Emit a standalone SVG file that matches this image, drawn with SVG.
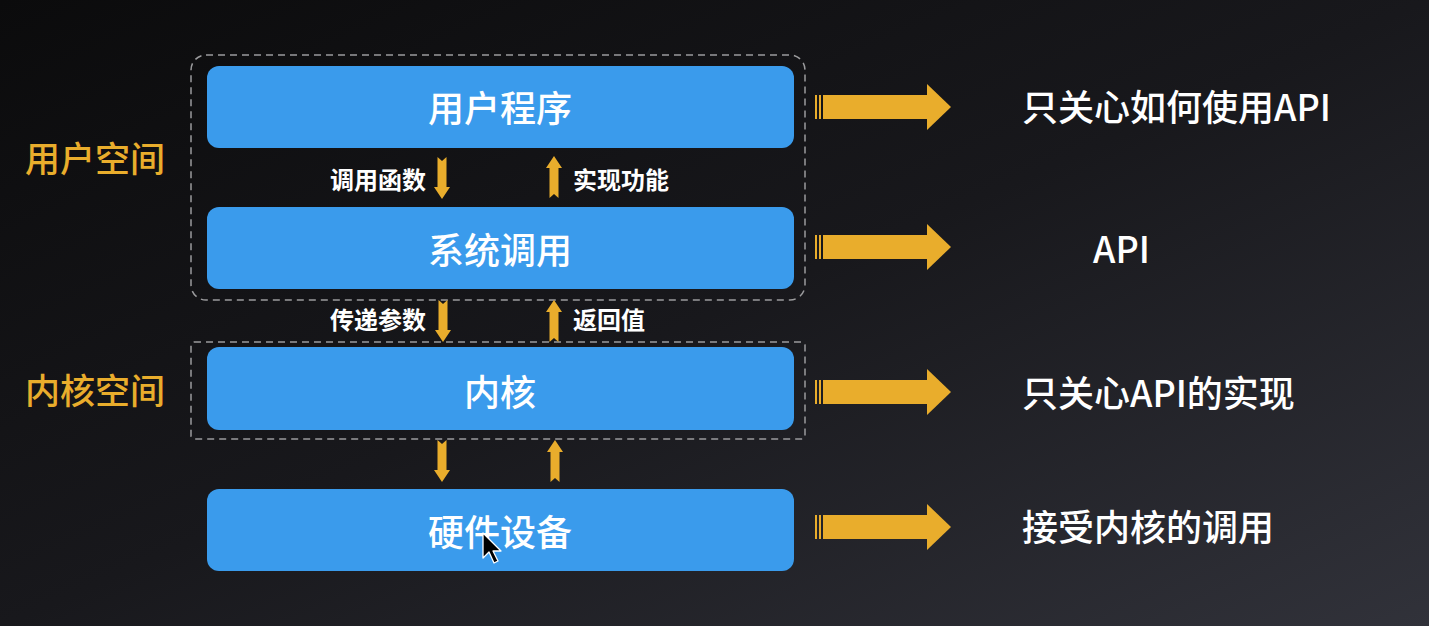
<svg xmlns="http://www.w3.org/2000/svg" width="1429" height="626" viewBox="0 0 1429 626">
  <defs>
    <linearGradient id="bg" x1="0" y1="0" x2="1" y2="1">
      <stop offset="0" stop-color="#0b0b0c"/>
      <stop offset="0.5" stop-color="#18181c"/>
      <stop offset="1" stop-color="#31323a"/>
    </linearGradient>
    <g id="bigArrow">
      <rect x="0" y="-12" width="2" height="24"/>
      <rect x="4" y="-12" width="2" height="24"/>
      <rect x="8" y="-12" width="105" height="24"/>
      <polygon points="112,-23 136,0 112,23"/>
    </g>
    <path id="downArrow" d="M-4.5,0 L0,4 L4.5,0 L4.5,30 L8,30 L0,42 L-8,30 L-4.5,30 Z"/>
    <style>
      .box { fill: #3a9bec; }
      .dash { fill: none; stroke: #9b9b9d; stroke-width: 1.5; stroke-dasharray: 7 5; }
      .ya { fill: #e9ad2c; }
      .t { font-family: "Noto Sans CJK SC", "Noto Sans", sans-serif; dominant-baseline: central; font-weight: 500; }
      .boxt { fill: #ffffff; font-size: 36px; text-anchor: middle; }
      .side { fill: #e9ad2c; font-size: 35px; }
      .small { fill: #ffffff; font-size: 24px; font-weight: bold; }
      .right { fill: #ffffff; font-size: 36px; }
    </style>
  </defs>
  <rect x="0" y="0" width="1429" height="626" fill="url(#bg)"/>

  <g id="user-space-frame">
    <rect class="dash" x="191" y="55" width="614" height="245" rx="15"/>
    <text class="t side" x="25" y="156">用户空间</text>
  </g>
  <g id="kernel-space-frame">
    <rect class="dash" x="191" y="342" width="614" height="97" rx="3"/>
    <text class="t side" x="25" y="388">内核空间</text>
  </g>

  <g id="user-program">
    <rect class="box" x="207" y="66" width="587" height="82" rx="12"/>
    <text class="t boxt" x="500" y="106">用户程序</text>
  </g>
  <g id="syscall">
    <rect class="box" x="207" y="207" width="587" height="82" rx="12"/>
    <text class="t boxt" x="500" y="248">系统调用</text>
  </g>
  <g id="kernel">
    <rect class="box" x="207" y="347" width="587" height="83" rx="12"/>
    <text class="t boxt" x="500" y="390">内核</text>
  </g>
  <g id="hardware">
    <rect class="box" x="207" y="489" width="587" height="82" rx="12"/>
    <text class="t boxt" x="500" y="530">硬件设备</text>
  </g>

  <g id="connectors" class="ya">
    <use href="#downArrow" x="442" y="157"/>
    <use href="#downArrow" transform="translate(554,198) rotate(180)"/>
    <use href="#downArrow" x="443" y="300"/>
    <use href="#downArrow" transform="translate(554,342) rotate(180)"/>
    <use href="#downArrow" x="442" y="440"/>
    <use href="#downArrow" transform="translate(555,482) rotate(180)"/>
    <use href="#bigArrow" x="815" y="107"/>
    <use href="#bigArrow" x="815" y="247"/>
    <use href="#bigArrow" x="815" y="392"/>
    <use href="#bigArrow" x="815" y="527"/>
  </g>

  <g id="connector-labels">
    <text class="t small" x="330" y="178">调用函数</text>
    <text class="t small" x="573" y="178">实现功能</text>
    <text class="t small" x="330" y="318">传递参数</text>
    <text class="t small" x="573" y="318">返回值</text>
  </g>

  <g id="notes">
    <text class="t right" x="1022" y="105">只关心如何使用API</text>
    <text class="t right" x="1093" y="247">API</text>
    <text class="t right" x="1022" y="391">只关心API的实现</text>
    <text class="t right" x="1022" y="525">接受内核的调用</text>
  </g>

  <g id="cursor">
    <path d="M483,533 L483,558 L489,552 L494,563 L498,561 L493,551 L501,551 Z" fill="#000000" stroke="#ffffff" stroke-width="1.3" stroke-linejoin="round"/>
  </g>
</svg>
